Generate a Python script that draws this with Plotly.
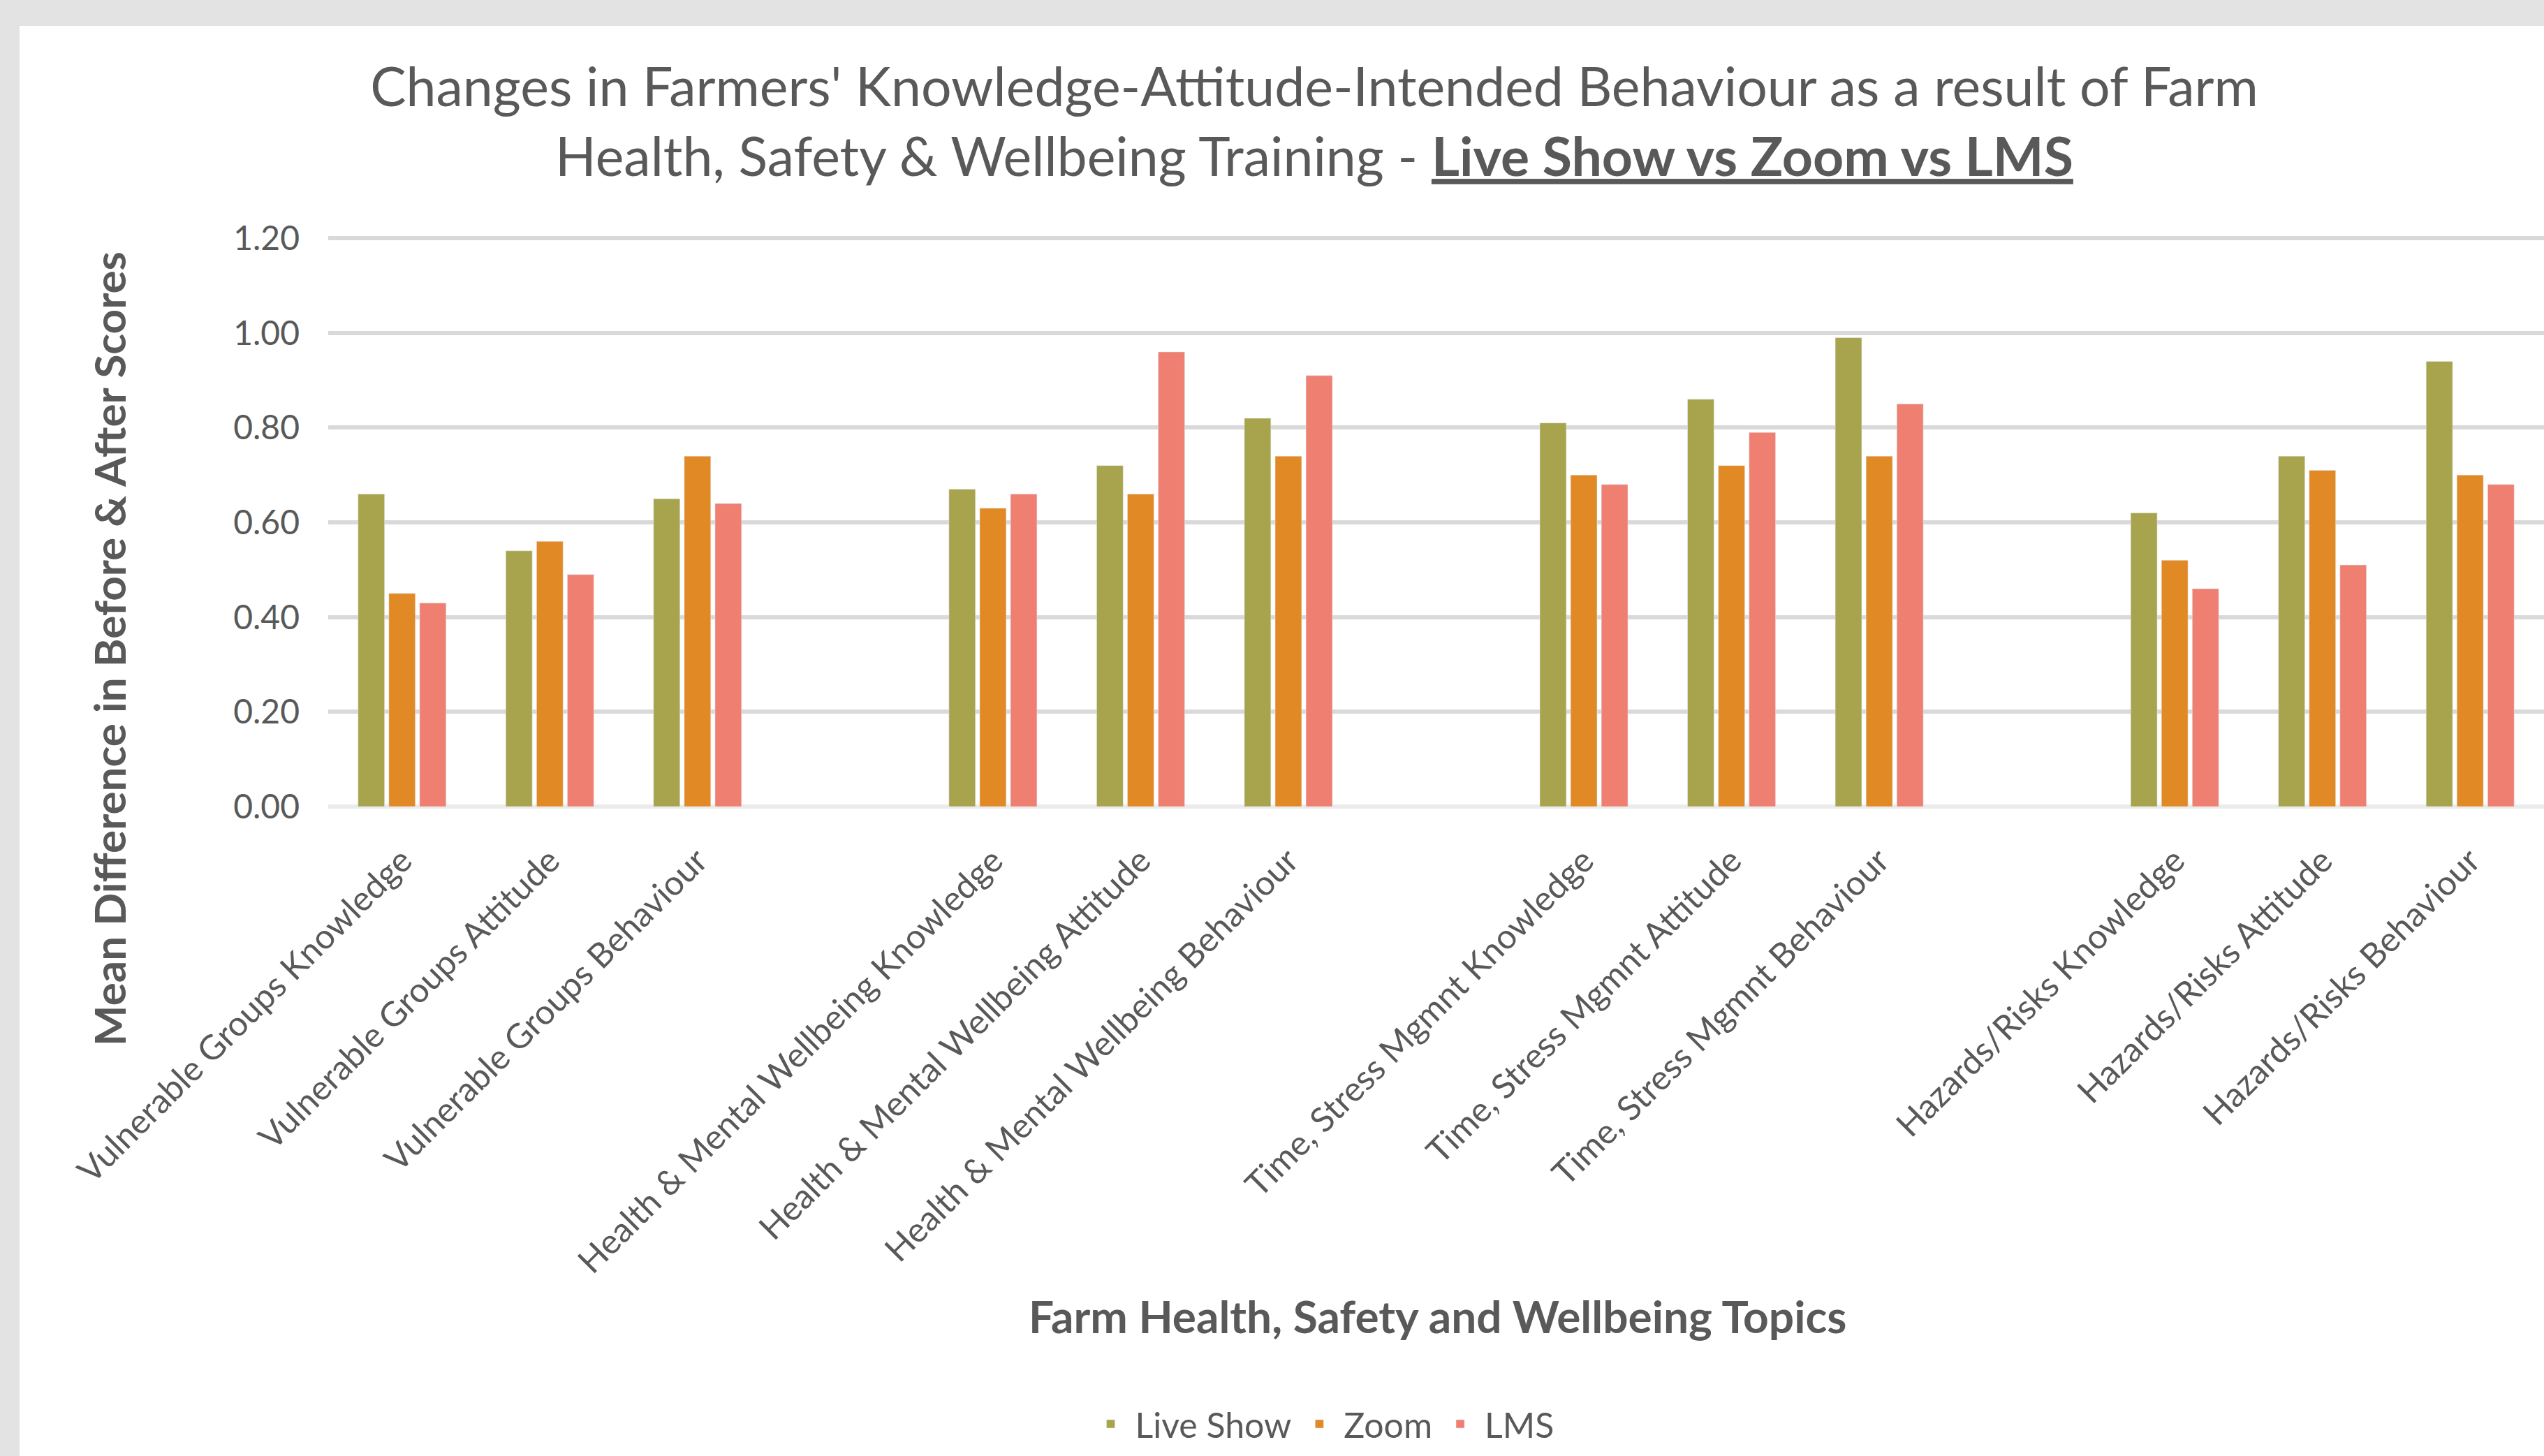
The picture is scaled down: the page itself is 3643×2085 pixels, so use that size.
import plotly.graph_objects as go

# ---------------- data ----------------
categories = [
    "Vulnerable Groups Knowledge", "Vulnerable Groups Attitude", "Vulnerable Groups Behaviour",
    "Health & Mental Wellbeing Knowledge", "Health & Mental Wellbeing Attitude", "Health & Mental Wellbeing Behaviour",
    "Time, Stress Mgmnt Knowledge", "Time, Stress Mgmnt Attitude", "Time, Stress Mgmnt Behaviour",
    "Hazards/Risks Knowledge", "Hazards/Risks Attitude", "Hazards/Risks Behaviour",
]
# axis order, with an empty slot between each topic
category_order = [
    "Vulnerable Groups Knowledge", "Vulnerable Groups Attitude", "Vulnerable Groups Behaviour", " ",
    "Health & Mental Wellbeing Knowledge", "Health & Mental Wellbeing Attitude", "Health & Mental Wellbeing Behaviour", "  ",
    "Time, Stress Mgmnt Knowledge", "Time, Stress Mgmnt Attitude", "Time, Stress Mgmnt Behaviour", "   ",
    "Hazards/Risks Knowledge", "Hazards/Risks Attitude", "Hazards/Risks Behaviour",
]
live_show = [0.66, 0.54, 0.65, 0.67, 0.72, 0.82, 0.81, 0.86, 0.99, 0.62, 0.74, 0.94]
zoom_vals = [0.45, 0.56, 0.74, 0.63, 0.66, 0.74, 0.70, 0.72, 0.74, 0.52, 0.71, 0.70]
lms_vals = [0.43, 0.49, 0.64, 0.66, 0.96, 0.91, 0.68, 0.79, 0.85, 0.46, 0.51, 0.68]
y_ticks = [0.0, 0.2, 0.4, 0.6, 0.8, 1.0, 1.2]
y_ticktext = ["0.00", "0.20", "0.40", "0.60", "0.80", "1.00", "1.20"]
y_range = [0, 1.215]

# ---------------- style ----------------
W, H = 3643, 2085
ML, MR, MT, MB = 470, 0, 331, 930
PW, PH = W - ML - MR, H - MT - MB
TEXT = "#595959"
FONT = "Lato"


def px_x(px):
    return (px - ML) / PW


def px_y(py):
    return (H - MB - py) / PH


fig = go.Figure()
fig.add_trace(go.Bar(name="Live Show", x=categories, y=live_show, marker_color="#A8A44D"))
fig.add_trace(go.Bar(name="Zoom", x=categories, y=zoom_vals, marker_color="#E18A25"))
fig.add_trace(go.Bar(name="LMS", x=categories, y=lms_vals, marker_color="#EF7F71"))

fig.update_layout(
    width=W, height=H,
    margin=dict(l=ML, r=MR, t=MT, b=MB, autoexpand=False),
    paper_bgcolor="#E3E3E3",
    plot_bgcolor="white",
    font=dict(family=FONT, color=TEXT),
    barmode="group",
    bargap=0.375,
    bargroupgap=0.14,
    title=dict(
        text="Changes in Farmers' Knowledge-Attitude-Intended Behaviour as a result of Farm<br>"
             "Health, Safety &amp; Wellbeing Training - <b><u>Live Show vs Zoom vs LMS</u></b>",
        font=dict(family=FONT, size=77, color=TEXT),
        xref="container", x=1882 / W, xanchor="center",
        yref="container", y=1 - 152 / H, yanchor="middle",
    ),
    shapes=[dict(
        type="rect", xref="paper", yref="paper", layer="below",
        x0=px_x(28), x1=px_x(W + 10), y0=px_y(H + 10), y1=px_y(37),
        fillcolor="white", line=dict(width=0),
    )],
    annotations=[
        dict(text="<b>Mean Difference in Before &amp; After Scores</b>",
             xref="paper", yref="paper", x=px_x(156), y=px_y(929),
             xanchor="center", yanchor="middle", textangle=-90, showarrow=False,
             font=dict(family=FONT, size=62, color=TEXT)),
        dict(text="<b>Farm Health, Safety and Wellbeing Topics</b>",
             xref="paper", yref="paper", x=px_x(2058), y=px_y(1884),
             xanchor="center", yanchor="middle", showarrow=False,
             font=dict(family=FONT, size=64, color=TEXT)),
    ],
    legend=dict(
        orientation="h", xref="paper", yref="paper",
        x=px_x(1893), xanchor="center", y=px_y(2039), yanchor="middle",
        font=dict(family=FONT, size=50, color=TEXT),
        bgcolor="rgba(0,0,0,0)",
        itemwidth=60,
    ),
    xaxis=dict(
        type="category", categoryorder="array", categoryarray=category_order,
        range=[-0.5, len(category_order) - 0.5],
        tickangle=-45, ticks="", showgrid=False,
        tickfont=dict(family=FONT, size=49, color=TEXT),
        ticklabelstandoff=38,
        showline=False, zeroline=False,
    ),
    yaxis=dict(
        range=y_range, tickvals=y_ticks, ticktext=y_ticktext,
        showgrid=True, gridcolor="#D9D9D9", gridwidth=6,
        zeroline=True, zerolinecolor="#EBEBEB", zerolinewidth=6,
        tickfont=dict(family=FONT, size=48, color=TEXT),
        ticklabelstandoff=40, ticks="",
    ),
)

fig.write_html("out.html", config={"displayModeBar": False},
               post_script="document.body.style.margin='0px';")
